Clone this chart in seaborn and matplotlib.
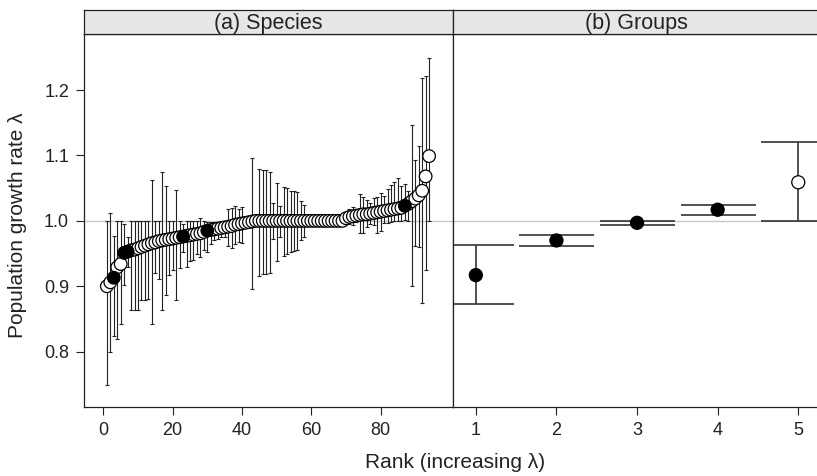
import matplotlib.pyplot as plt
import pandas as pd
import seaborn as sns

# (a) species, ranked by increasing lambda
rank = list(range(1, 95))
lam = [
    0.900, 0.906, 0.913, 0.929, 0.934, 0.951, 0.953, 0.955, 0.956, 0.958,
    0.960, 0.962, 0.964, 0.966, 0.967, 0.969, 0.970, 0.971, 0.972, 0.973,
    0.974, 0.975, 0.976, 0.977, 0.978, 0.979, 0.980, 0.981, 0.983, 0.985,
    0.986, 0.987, 0.988, 0.989, 0.990, 0.991, 0.992, 0.994, 0.995, 0.996,
    0.997, 0.998, 0.999, 1.000, 1.000, 1.000, 1.000, 1.000, 1.000, 1.000,
    1.000, 1.000, 1.000, 1.000, 1.000, 1.000, 1.000, 1.000, 1.000, 1.000,
    1.000, 1.000, 1.000, 1.000, 1.000, 1.000, 1.000, 1.000, 1.000, 1.004,
    1.006, 1.007, 1.008, 1.009, 1.010, 1.010, 1.011, 1.012, 1.013, 1.014,
    1.015, 1.016, 1.017, 1.018, 1.019, 1.020, 1.023, 1.026, 1.030, 1.034,
    1.039, 1.046, 1.068, 1.099,
]
lam_lo = [
    0.749, 0.799, 0.824, 0.820, 0.842, 0.902, 0.930, 0.863, 0.863, 0.863,
    0.879, 0.879, 0.880, 0.842, 0.920, 0.911, 0.864, 0.887, 0.917, 0.925,
    0.879, 0.928, 0.952, 0.930, 0.939, 0.940, 0.950, 0.945, 0.955, 0.952,
    0.965, 0.970, 0.972, 0.975, 0.976, 0.962, 0.959, 0.965, 0.968, 0.966,
    0.990, 0.993, 0.896, 0.998, 0.916, 0.918, 0.919, 0.921, 0.973, 0.939,
    0.975, 0.947, 0.949, 0.952, 0.954, 0.955, 0.970, 0.975, 1.000, 1.000,
    1.000, 1.000, 1.000, 1.000, 1.000, 1.000, 1.000, 1.000, 1.000, 1.000,
    0.995, 0.993, 0.998, 0.982, 0.981, 0.990, 0.995, 0.993, 0.981, 0.985,
    0.996, 0.997, 0.998, 1.000, 1.000, 1.000, 1.002, 1.000, 0.901, 0.962,
    0.960, 0.874, 0.925, 1.000,
]
lam_hi = [
    1.000, 1.012, 0.977, 1.000, 1.000, 0.995, 0.976, 1.000, 1.000, 1.000,
    1.000, 1.000, 1.000, 1.062, 1.000, 1.000, 1.075, 1.053, 1.000, 1.000,
    1.047, 1.000, 0.995, 1.000, 1.000, 1.000, 1.000, 1.004, 1.000, 0.998,
    0.998, 0.999, 0.999, 1.000, 1.000, 1.018, 1.020, 1.023, 1.018, 1.021,
    1.003, 1.004, 1.096, 1.002, 1.080, 1.078, 1.077, 1.075, 1.027, 1.058,
    1.023, 1.052, 1.050, 1.046, 1.045, 1.044, 1.031, 1.025, 1.000, 1.000,
    1.000, 1.000, 1.000, 1.000, 1.000, 1.000, 1.000, 1.000, 1.000, 1.008,
    1.018, 1.021, 1.012, 1.041, 1.037, 1.032, 1.028, 1.035, 1.036, 1.042,
    1.038, 1.048, 1.055, 1.060, 1.065, 1.053, 1.056, 1.046, 1.146, 1.093,
    1.115, 1.218, 1.222, 1.249,
]
filled_ranks = [3, 6, 7, 23, 30, 87]

# (b) groups
groups = [1, 2, 3, 4, 5]
group_lam = [0.917, 0.970, 0.997, 1.017, 1.059]
group_lo = [0.873, 0.961, 0.993, 1.009, 1.000]
group_hi = [0.963, 0.979, 0.9995, 1.025, 1.121]
group_filled = [True, True, True, True, False]

sns.set_theme(style='ticks')
plt.rcParams['font.family'] = ['Liberation Sans', 'DejaVu Sans']
plt.rcParams['text.color'] = '#222222'
plt.rcParams['axes.edgecolor'] = '#222222'
plt.rcParams['xtick.color'] = '#222222'
plt.rcParams['ytick.color'] = '#222222'

species = pd.DataFrame({'Rank': rank, 'lam': lam, 'lo': lam_lo, 'hi': lam_hi})
species['Filled'] = species['Rank'].isin(filled_ranks)
grp = pd.DataFrame({'Group': groups, 'lam': group_lam, 'lo': group_lo,
                    'hi': group_hi, 'Filled': group_filled})

fig = plt.figure(figsize=(8.17, 4.76), dpi=100)
bottom, height = 0.145, 0.783
ax1 = fig.add_axes([0.1032, bottom, 0.4513, height])
ax2 = fig.add_axes([0.5545, bottom, 0.4492, height], sharey=ax1)

pal = {True: 'black', False: 'white'}

for ax in (ax1, ax2):
    ax.axhline(1.0, color='#c8c8c8', lw=1, zorder=1)

# species panel
ax1.errorbar(species['Rank'], species['lam'],
             yerr=[species['lam'] - species['lo'], species['hi'] - species['lam']],
             fmt='none', ecolor='#222222', elinewidth=0.8, capsize=1.7,
             capthick=0.8, zorder=2)
sns.scatterplot(data=species.sort_values('Filled', kind='stable'),
                x='Rank', y='lam', hue='Filled', palette=pal, s=82,
                edgecolor='black', linewidth=0.9, legend=False, ax=ax1,
                zorder=3)

# groups panel
ax2.errorbar(grp['Group'], grp['lam'],
             yerr=[grp['lam'] - grp['lo'], grp['hi'] - grp['lam']],
             fmt='none', ecolor='#333333', elinewidth=1.2, capsize=27,
             capthick=1.2, zorder=2)
sns.scatterplot(data=grp, x='Group', y='lam', hue='Filled', palette=pal,
                s=88, edgecolor='black', linewidth=0.9, legend=False, ax=ax2,
                zorder=3)

ax1.set_xlim(-5.5, 100.9)
ax1.set_ylim(0.7154, 1.2853)
ax2.set_xlim(0.717, 5.27)

ax1.set_xticks([0, 20, 40, 60, 80])
ax1.set_yticks([0.8, 0.9, 1.0, 1.1, 1.2])
ax1.set_yticklabels(['0.8', '0.9', '1.0', '1.1', '1.2'])
ax2.set_xticks(groups)

for ax in (ax1, ax2):
    ax.set_xlabel('')
    ax.set_ylabel('')
    for sp in ax.spines.values():
        sp.set_visible(True)
        sp.set_linewidth(0.9)
    ax.tick_params(direction='out', length=6, width=0.8, labelsize=13, pad=5)
ax2.tick_params(axis='y', left=False, labelleft=False)

# lattice-style strips
for ax, title in ((ax1, '(a) Species'), (ax2, '(b) Groups')):
    pos = ax.get_position()
    strip = fig.add_axes([pos.x0, bottom + height, pos.width, 0.052])
    strip.set_facecolor('#e6e6e6')
    strip.set_xticks([])
    strip.set_yticks([])
    for sp in strip.spines.values():
        sp.set_linewidth(0.9)
    strip.text(0.5, 0.45, title, ha='center', va='center', fontsize=15.5,
               transform=strip.transAxes)

fig.text(18 / 817, 1 - 225 / 476, 'Population growth rate λ',
         rotation=90, ha='center', va='center', fontsize=15)
fig.text(455 / 817, 13 / 476, 'Rank (increasing λ)', ha='center',
         va='center', fontsize=15)

fig.savefig('out.png', dpi=100)
